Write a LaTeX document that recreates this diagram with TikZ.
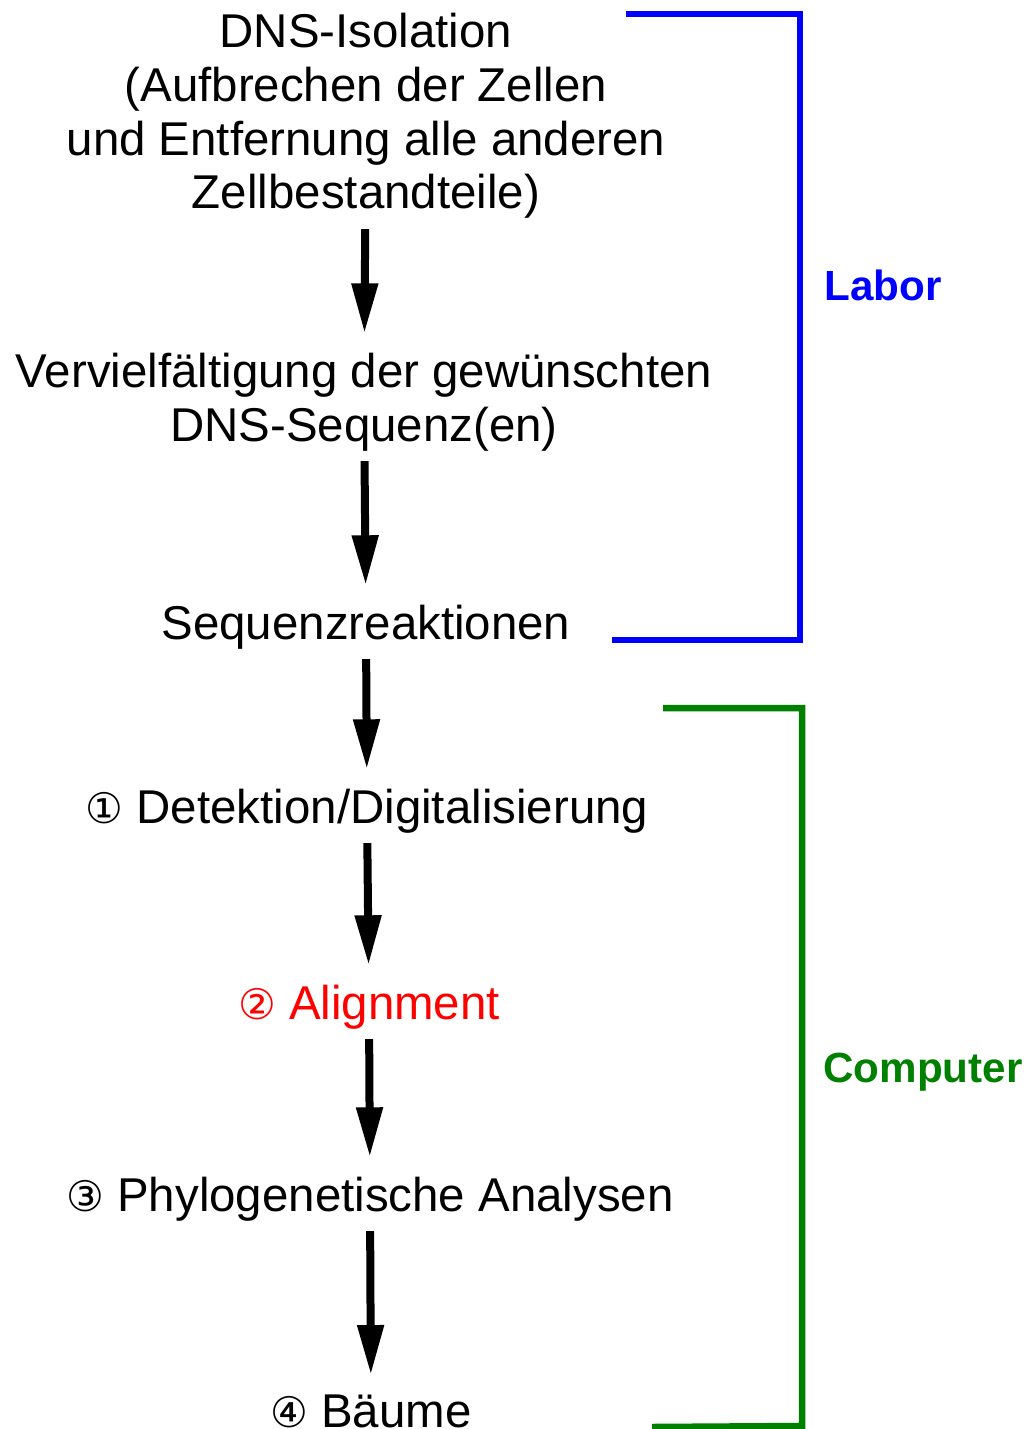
\documentclass[tikz,border=0pt]{standalone}
\usepackage{fontspec}
\setmainfont{Liberation Sans}
\newfontfamily\circfont{DejaVu Sans}
\usepackage{xcolor}
\usetikzlibrary{arrows.meta}
\definecolor{laborblue}{RGB}{0,0,255}
\definecolor{compgreen}{RGB}{0,128,0}
\definecolor{alignred}{RGB}{255,0,0}
\newcommand{\circnum}[1]{{\circfont\fontsize{24}{28}\selectfont #1}}

\begin{document}
\begin{tikzpicture}[x=0.02cm, y=-0.02cm, every node/.style={font=\fontsize{27}{30.7}\selectfont, inner sep=0pt, align=center, anchor=base},
  flow/.style={line width=0.16cm, -{Triangle[width=0.5cm, length=1cm]}, shorten <=0.2cm, shorten >=0.38cm},
  bracket/.style={line width=0.13cm},
  side/.style={font=\fontsize{24}{28}\selectfont\bfseries, anchor=center}]
  \useasboundingbox (0,0) rectangle (1026,1429);
  \node (dns) at (366,209) {DNS-Isolation\\(Aufbrechen der Zellen\\und Entfernung alle anderen\\Zellbestandteile)};
  \node (verv) at (364,441) {Vervielfältigung der gewünschten\\DNS-Sequenz(en)};
  \node (seq) at (366,639) {Sequenzreaktionen};
  \node (det) at (367,823) {\circnum{①} Detektion/Digitalisierung};
  \node (ali) at (369,1019) [text=alignred] {\circnum{②} Alignment};
  \node (phy) at (370,1211) {\circnum{③} Phylogenetische Analysen};
  \node (baum) at (371,1427) {\circnum{④} Bäume};

  \draw[flow] (dns) -- (verv);
  \draw[flow] (verv) -- (seq);
  \draw[flow] (seq) -- (det);
  \draw[flow] (det) -- (ali);
  \draw[flow] (ali) -- (phy);
  \draw[flow] (phy) -- (baum);

  \coordinate (labtop) at (626,14);
  \coordinate (labbot) at (612,640);
  \coordinate (comptop) at (663,708);
  \coordinate (compbot) at (652,1427);
  \draw[bracket, draw=laborblue] (labtop) -- (800,14) -- (800,640) -- (labbot);
  \draw[bracket, draw=compgreen] (comptop) -- (802,708) -- (802,1426) -- (compbot);
  \node (labor) at (883,285) [side, text=laborblue] {Labor};
  \node (comp) at (923,1072) [side, text=compgreen] {Computer};
\end{tikzpicture}
\end{document}
